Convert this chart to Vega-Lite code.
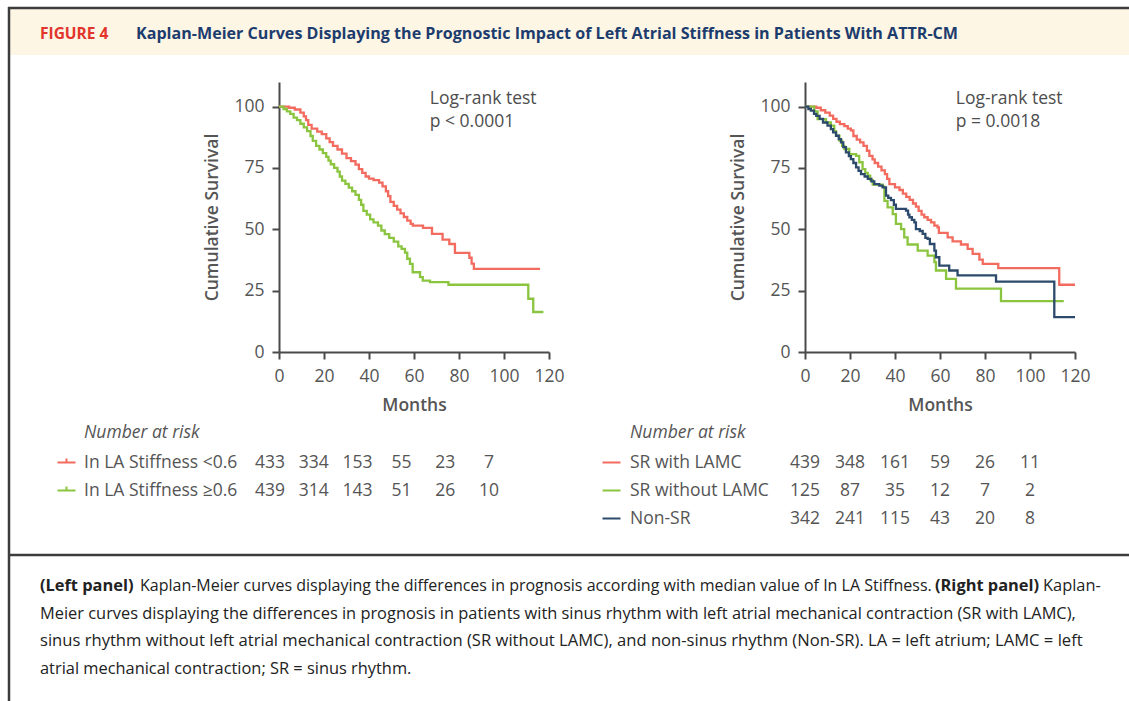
{
  "$schema": "https://vega.github.io/schema/vega-lite/v6.json",
  "padding": 0,
  "autosize": {"type": "pad"},
  "background": "white",
  "columns": 2,
  "bounds": "flush",
  "spacing": {"row": 96, "column": 256},
  "resolve": {"scale": {"color": "independent", "x": "independent", "y": "independent"}, "legend": {"color": "independent"}},
  "config": {
    "font": "Open Sans",
    "view": {"stroke": null},
    "axis": {"domainColor": "#4a4a4a", "domainWidth": 2, "tickColor": "#4a4a4a", "tickWidth": 2, "tickSize": 7, "labelFont": "Open Sans", "labelFontSize": 17.5, "labelColor": "#555555", "titleFont": "Open Sans", "titleFontSize": 17.5, "titleColor": "#555555", "grid": false, "labelFlush": false, "labelOverlap": false},
    "legend": {"labelFont": "Open Sans", "titleFont": "Open Sans", "labelLimit": 400, "titleLimit": 400}
  },
  "concat": [
    {
      "width": 270,
      "height": 270,
      "layer": [
        {"data": {"values": [{}]}, "mark": {"type": "rect", "opacity": 0}, "encoding": {"x": {"value": -279}, "x2": {"value": 850}, "y": {"value": -82}, "y2": {"value": 619}}},
        {"data": {"values": [{}]}, "mark": {"type": "rect", "color": "#FDF6E4"}, "encoding": {"x": {"value": -270}, "x2": {"value": 850}, "y": {"value": -73}, "y2": {"value": -27}}},
        {"data": {"values": [{}]}, "mark": {"type": "rule", "color": "#3c3c3c", "strokeWidth": 2.5}, "encoding": {"x": {"value": -271}, "x2": {"value": 850}, "y": {"value": -74}}},
        {"data": {"values": [{}]}, "mark": {"type": "rule", "color": "#3c3c3c", "strokeWidth": 2.5}, "encoding": {"x": {"value": -270}, "y": {"value": -75}, "y2": {"value": 619}}},
        {"data": {"values": [{}]}, "mark": {"type": "rule", "color": "#3c3c3c", "strokeWidth": 2.5}, "encoding": {"x": {"value": -270}, "x2": {"value": 850}, "y": {"value": 473}}},
        {"data": {"values": [{}]}, "mark": {"type": "text", "text": "FIGURE 4", "font": "Open Sans", "fontWeight": "bold", "fontSize": 15.5, "color": "#E2352D", "align": "left", "baseline": "middle"}, "encoding": {"x": {"value": -239}, "y": {"value": -48}}},
        {"data": {"values": [{}]}, "mark": {"type": "text", "text": "Kaplan-Meier Curves Displaying the Prognostic Impact of Left Atrial Stiffness in Patients With ATTR-CM", "font": "Open Sans", "fontWeight": "bold", "fontSize": 16.1, "color": "#1D3C6E", "align": "left", "baseline": "middle"}, "encoding": {"x": {"value": -143}, "y": {"value": -48}}},
        {"data": {"values": [{}]}, "mark": {"type": "text", "text": "(Left panel)", "fontWeight": "bold", "fontSize": 16.4, "color": "#222222", "align": "left", "baseline": "middle"}, "encoding": {"x": {"value": -239}, "y": {"value": 504}}},
        {"data": {"values": [{}]}, "mark": {"type": "text", "text": "Kaplan-Meier curves displaying the differences in prognosis according with median value of In LA Stiffness.", "fontSize": 16, "color": "#222222", "align": "left", "baseline": "middle"}, "encoding": {"x": {"value": -139}, "y": {"value": 504}}},
        {"data": {"values": [{}]}, "mark": {"type": "text", "text": "(Right panel)", "fontWeight": "bold", "fontSize": 16.4, "color": "#222222", "align": "left", "baseline": "middle"}, "encoding": {"x": {"value": 656}, "y": {"value": 504}}},
        {"data": {"values": [{}]}, "mark": {"type": "text", "text": "Kaplan-", "fontSize": 16.4, "color": "#222222", "align": "left", "baseline": "middle"}, "encoding": {"x": {"value": 764}, "y": {"value": 504}}},
        {"data": {"values": [{}]}, "mark": {"type": "text", "text": "Meier curves displaying the differences in prognosis in patients with sinus rhythm with left atrial mechanical contraction (SR with LAMC),", "fontSize": 16.4, "color": "#222222", "align": "left", "baseline": "middle"}, "encoding": {"x": {"value": -239}, "y": {"value": 531.5}}},
        {"data": {"values": [{}]}, "mark": {"type": "text", "text": "sinus rhythm without left atrial mechanical contraction (SR without LAMC), and non-sinus rhythm (Non-SR). LA = left atrium; LAMC = left", "fontSize": 16.6, "color": "#222222", "align": "left", "baseline": "middle"}, "encoding": {"x": {"value": -239}, "y": {"value": 559}}},
        {"data": {"values": [{}]}, "mark": {"type": "text", "text": "atrial mechanical contraction; SR = sinus rhythm.", "fontSize": 16.4, "color": "#222222", "align": "left", "baseline": "middle"}, "encoding": {"x": {"value": -239}, "y": {"value": 586.5}}},
        {
          "data": {"values": [
            {"g": "In LA Stiffness <0.6", "t": 0, "s": 100}, {"g": "In LA Stiffness <0.6", "t": 4.5, "s": 99.5}, {"g": "In LA Stiffness <0.6", "t": 7, "s": 98.8}, {"g": "In LA Stiffness <0.6", "t": 9.5, "s": 97.5}, {"g": "In LA Stiffness <0.6", "t": 11, "s": 96}, {"g": "In LA Stiffness <0.6", "t": 12, "s": 94.5}, {"g": "In LA Stiffness <0.6", "t": 13, "s": 92.5}, {"g": "In LA Stiffness <0.6", "t": 14.5, "s": 91}, {"g": "In LA Stiffness <0.6", "t": 17, "s": 89.8}, {"g": "In LA Stiffness <0.6", "t": 19, "s": 88.8}, {"g": "In LA Stiffness <0.6", "t": 21, "s": 87}, {"g": "In LA Stiffness <0.6", "t": 22.5, "s": 85.5}, {"g": "In LA Stiffness <0.6", "t": 24, "s": 84}, {"g": "In LA Stiffness <0.6", "t": 26, "s": 82.5}, {"g": "In LA Stiffness <0.6", "t": 28, "s": 80.8}, {"g": "In LA Stiffness <0.6", "t": 30, "s": 79}, {"g": "In LA Stiffness <0.6", "t": 32, "s": 77.8}, {"g": "In LA Stiffness <0.6", "t": 34, "s": 76.3}, {"g": "In LA Stiffness <0.6", "t": 35.5, "s": 74.5}, {"g": "In LA Stiffness <0.6", "t": 37, "s": 73}, {"g": "In LA Stiffness <0.6", "t": 38.5, "s": 71.5}, {"g": "In LA Stiffness <0.6", "t": 40, "s": 70.6}, {"g": "In LA Stiffness <0.6", "t": 42, "s": 70}, {"g": "In LA Stiffness <0.6", "t": 44.5, "s": 69}, {"g": "In LA Stiffness <0.6", "t": 46, "s": 67.5}, {"g": "In LA Stiffness <0.6", "t": 47.5, "s": 65.5}, {"g": "In LA Stiffness <0.6", "t": 48.5, "s": 63.5}, {"g": "In LA Stiffness <0.6", "t": 49.5, "s": 61.2}, {"g": "In LA Stiffness <0.6", "t": 51, "s": 59.5}, {"g": "In LA Stiffness <0.6", "t": 52.5, "s": 58}, {"g": "In LA Stiffness <0.6", "t": 54, "s": 56.5}, {"g": "In LA Stiffness <0.6", "t": 55.5, "s": 55}, {"g": "In LA Stiffness <0.6", "t": 57, "s": 53.5}, {"g": "In LA Stiffness <0.6", "t": 58.5, "s": 52.2}, {"g": "In LA Stiffness <0.6", "t": 59.5, "s": 51.5}, {"g": "In LA Stiffness <0.6", "t": 64, "s": 50.6}, {"g": "In LA Stiffness <0.6", "t": 68, "s": 48.1}, {"g": "In LA Stiffness <0.6", "t": 72.7, "s": 45.8}, {"g": "In LA Stiffness <0.6", "t": 75.7, "s": 44}, {"g": "In LA Stiffness <0.6", "t": 78.2, "s": 40.4}, {"g": "In LA Stiffness <0.6", "t": 84.6, "s": 38.4}, {"g": "In LA Stiffness <0.6", "t": 85.6, "s": 36}, {"g": "In LA Stiffness <0.6", "t": 86.6, "s": 33.9}, {"g": "In LA Stiffness <0.6", "t": 116, "s": 33.9},
            {"g": "In LA Stiffness ≥0.6", "t": 0, "s": 100}, {"g": "In LA Stiffness ≥0.6", "t": 2, "s": 99}, {"g": "In LA Stiffness ≥0.6", "t": 3.5, "s": 98}, {"g": "In LA Stiffness ≥0.6", "t": 5, "s": 97}, {"g": "In LA Stiffness ≥0.6", "t": 6.5, "s": 95.5}, {"g": "In LA Stiffness ≥0.6", "t": 8, "s": 94.5}, {"g": "In LA Stiffness ≥0.6", "t": 9.5, "s": 93}, {"g": "In LA Stiffness ≥0.6", "t": 11, "s": 91.5}, {"g": "In LA Stiffness ≥0.6", "t": 12.5, "s": 90}, {"g": "In LA Stiffness ≥0.6", "t": 14, "s": 88}, {"g": "In LA Stiffness ≥0.6", "t": 15, "s": 86}, {"g": "In LA Stiffness ≥0.6", "t": 16.5, "s": 84}, {"g": "In LA Stiffness ≥0.6", "t": 18, "s": 82.5}, {"g": "In LA Stiffness ≥0.6", "t": 19.5, "s": 81}, {"g": "In LA Stiffness ≥0.6", "t": 21, "s": 79.5}, {"g": "In LA Stiffness ≥0.6", "t": 22, "s": 78}, {"g": "In LA Stiffness ≥0.6", "t": 23, "s": 76.5}, {"g": "In LA Stiffness ≥0.6", "t": 24.5, "s": 75}, {"g": "In LA Stiffness ≥0.6", "t": 26, "s": 73.5}, {"g": "In LA Stiffness ≥0.6", "t": 27, "s": 71.5}, {"g": "In LA Stiffness ≥0.6", "t": 28, "s": 69.8}, {"g": "In LA Stiffness ≥0.6", "t": 29.5, "s": 68.5}, {"g": "In LA Stiffness ≥0.6", "t": 31, "s": 67}, {"g": "In LA Stiffness ≥0.6", "t": 32.5, "s": 65.5}, {"g": "In LA Stiffness ≥0.6", "t": 34, "s": 64}, {"g": "In LA Stiffness ≥0.6", "t": 35.5, "s": 62}, {"g": "In LA Stiffness ≥0.6", "t": 36.5, "s": 60}, {"g": "In LA Stiffness ≥0.6", "t": 37.5, "s": 57.5}, {"g": "In LA Stiffness ≥0.6", "t": 39, "s": 56}, {"g": "In LA Stiffness ≥0.6", "t": 40.5, "s": 54}, {"g": "In LA Stiffness ≥0.6", "t": 42, "s": 52.8}, {"g": "In LA Stiffness ≥0.6", "t": 44, "s": 51.5}, {"g": "In LA Stiffness ≥0.6", "t": 45.5, "s": 49.5}, {"g": "In LA Stiffness ≥0.6", "t": 47, "s": 48}, {"g": "In LA Stiffness ≥0.6", "t": 49, "s": 46.5}, {"g": "In LA Stiffness ≥0.6", "t": 51, "s": 45}, {"g": "In LA Stiffness ≥0.6", "t": 53, "s": 43}, {"g": "In LA Stiffness ≥0.6", "t": 54.5, "s": 42}, {"g": "In LA Stiffness ≥0.6", "t": 56, "s": 40.5}, {"g": "In LA Stiffness ≥0.6", "t": 57, "s": 38}, {"g": "In LA Stiffness ≥0.6", "t": 58.2, "s": 35.9}, {"g": "In LA Stiffness ≥0.6", "t": 59.4, "s": 32.5}, {"g": "In LA Stiffness ≥0.6", "t": 62.7, "s": 30.5}, {"g": "In LA Stiffness ≥0.6", "t": 63.9, "s": 29.1}, {"g": "In LA Stiffness ≥0.6", "t": 67.1, "s": 28.5}, {"g": "In LA Stiffness ≥0.6", "t": 75.3, "s": 27.4}, {"g": "In LA Stiffness ≥0.6", "t": 110.8, "s": 21.7}, {"g": "In LA Stiffness ≥0.6", "t": 113, "s": 16.3}, {"g": "In LA Stiffness ≥0.6", "t": 117.5, "s": 16.3}
          ]},
          "mark": {"type": "line", "interpolate": "step-after", "strokeWidth": 2.3},
          "encoding": {
            "x": {"field": "t", "type": "quantitative", "scale": {"domain": [0, 120], "nice": false}, "axis": {"values": [0, 20, 40, 60, 80, 100, 120], "title": "Months", "titleFontWeight": 600, "titleY": 53, "titleBaseline": "middle", "labelPadding": 8}},
            "y": {"field": "s", "type": "quantitative", "scale": {"domain": [0, 110], "nice": false}, "axis": {"values": [0, 25, 50, 75, 100], "title": "Cumulative Survival", "titleFontWeight": 600, "titleAngle": 270, "titleX": -67, "titleY": 135, "titleBaseline": "middle", "titleAlign": "center", "labelPadding": 8}},
            "color": {"field": "g", "type": "nominal", "scale": {"domain": ["In LA Stiffness <0.6", "In LA Stiffness ≥0.6"], "range": ["#F26B5E", "#8BC53F"]}, "legend": {"orient": "none", "direction": "vertical", "legendX": -195, "legendY": 342, "title": "Number at risk", "titleFontStyle": "italic", "titleFontWeight": "normal", "titleFontSize": 17.5, "titleColor": "#555555", "titlePadding": 11, "labelFontSize": 17.5, "labelColor": "#555555", "symbolType": "M-1,0H1M0,0V-0.45", "symbolSize": 324, "symbolStrokeWidth": 2, "symbolOffset": -27.5, "labelOffset": 7.5, "rowPadding": 9}}
          }
        },
        {
          "data": {"values": [{"t": 67, "s": 103.2, "label": "Log-rank test"}, {"t": 67, "s": 93.8, "label": "p < 0.0001"}]},
          "mark": {"type": "text", "align": "left", "baseline": "middle", "fontSize": 17.5, "color": "#4d4d4d"},
          "encoding": {"x": {"field": "t", "type": "quantitative"}, "y": {"field": "s", "type": "quantitative"}, "text": {"field": "label"}}
        }
      ]
    },
    {
      "width": 270,
      "height": 270,
      "layer": [
        {
          "data": {"values": [
            {"g": "SR with LAMC", "t": 0, "s": 100}, {"g": "SR with LAMC", "t": 5, "s": 99.5}, {"g": "SR with LAMC", "t": 7, "s": 98.5}, {"g": "SR with LAMC", "t": 9, "s": 97.5}, {"g": "SR with LAMC", "t": 11, "s": 96.3}, {"g": "SR with LAMC", "t": 12.5, "s": 95}, {"g": "SR with LAMC", "t": 14, "s": 93.8}, {"g": "SR with LAMC", "t": 15.5, "s": 92.8}, {"g": "SR with LAMC", "t": 17.5, "s": 92}, {"g": "SR with LAMC", "t": 19, "s": 91}, {"g": "SR with LAMC", "t": 20.4, "s": 90.3}, {"g": "SR with LAMC", "t": 21.5, "s": 88}, {"g": "SR with LAMC", "t": 23, "s": 86.5}, {"g": "SR with LAMC", "t": 24.5, "s": 85.4}, {"g": "SR with LAMC", "t": 26, "s": 84}, {"g": "SR with LAMC", "t": 27.5, "s": 82}, {"g": "SR with LAMC", "t": 28.6, "s": 79.9}, {"g": "SR with LAMC", "t": 30, "s": 78.5}, {"g": "SR with LAMC", "t": 31, "s": 77}, {"g": "SR with LAMC", "t": 32.5, "s": 75.5}, {"g": "SR with LAMC", "t": 34, "s": 74}, {"g": "SR with LAMC", "t": 35.5, "s": 72.5}, {"g": "SR with LAMC", "t": 36.5, "s": 70.5}, {"g": "SR with LAMC", "t": 37.5, "s": 68.4}, {"g": "SR with LAMC", "t": 40, "s": 67.1}, {"g": "SR with LAMC", "t": 42, "s": 66}, {"g": "SR with LAMC", "t": 43.5, "s": 64.5}, {"g": "SR with LAMC", "t": 45, "s": 63.2}, {"g": "SR with LAMC", "t": 46.5, "s": 62}, {"g": "SR with LAMC", "t": 48, "s": 60.5}, {"g": "SR with LAMC", "t": 49.3, "s": 59.2}, {"g": "SR with LAMC", "t": 50.5, "s": 57.5}, {"g": "SR with LAMC", "t": 51.8, "s": 56}, {"g": "SR with LAMC", "t": 53, "s": 54.9}, {"g": "SR with LAMC", "t": 54.5, "s": 53.8}, {"g": "SR with LAMC", "t": 56, "s": 52.8}, {"g": "SR with LAMC", "t": 57.5, "s": 51.5}, {"g": "SR with LAMC", "t": 58.9, "s": 50.8}, {"g": "SR with LAMC", "t": 59.5, "s": 48.5}, {"g": "SR with LAMC", "t": 63.4, "s": 46.7}, {"g": "SR with LAMC", "t": 65.6, "s": 45.1}, {"g": "SR with LAMC", "t": 69.3, "s": 43.8}, {"g": "SR with LAMC", "t": 72.3, "s": 42}, {"g": "SR with LAMC", "t": 74.5, "s": 40}, {"g": "SR with LAMC", "t": 77.5, "s": 37.6}, {"g": "SR with LAMC", "t": 79, "s": 35.9}, {"g": "SR with LAMC", "t": 85.9, "s": 34.2}, {"g": "SR with LAMC", "t": 113, "s": 27.4}, {"g": "SR with LAMC", "t": 120, "s": 27.4},
            {"g": "SR without LAMC", "t": 0, "s": 100}, {"g": "SR without LAMC", "t": 4.1, "s": 98}, {"g": "SR without LAMC", "t": 5.6, "s": 94.9}, {"g": "SR without LAMC", "t": 9.3, "s": 93.5}, {"g": "SR without LAMC", "t": 11.5, "s": 92.2}, {"g": "SR without LAMC", "t": 13, "s": 90}, {"g": "SR without LAMC", "t": 13.8, "s": 88.1}, {"g": "SR without LAMC", "t": 15.3, "s": 86.1}, {"g": "SR without LAMC", "t": 16.5, "s": 84}, {"g": "SR without LAMC", "t": 17.5, "s": 82.7}, {"g": "SR without LAMC", "t": 19.7, "s": 80.6}, {"g": "SR without LAMC", "t": 22.7, "s": 79.9}, {"g": "SR without LAMC", "t": 24.1, "s": 77.3}, {"g": "SR without LAMC", "t": 25.6, "s": 74.5}, {"g": "SR without LAMC", "t": 26.8, "s": 73}, {"g": "SR without LAMC", "t": 27.9, "s": 71.8}, {"g": "SR without LAMC", "t": 29, "s": 70}, {"g": "SR without LAMC", "t": 30.1, "s": 68.2}, {"g": "SR without LAMC", "t": 34.5, "s": 67.4}, {"g": "SR without LAMC", "t": 35.3, "s": 61.6}, {"g": "SR without LAMC", "t": 36.7, "s": 58.9}, {"g": "SR without LAMC", "t": 39, "s": 56.2}, {"g": "SR without LAMC", "t": 40.4, "s": 52.2}, {"g": "SR without LAMC", "t": 42.7, "s": 50.1}, {"g": "SR without LAMC", "t": 44.1, "s": 46.7}, {"g": "SR without LAMC", "t": 45.6, "s": 43.8}, {"g": "SR without LAMC", "t": 50.1, "s": 41.3}, {"g": "SR without LAMC", "t": 54.5, "s": 39.3}, {"g": "SR without LAMC", "t": 57.5, "s": 36.6}, {"g": "SR without LAMC", "t": 58.2, "s": 33.2}, {"g": "SR without LAMC", "t": 62.7, "s": 29.8}, {"g": "SR without LAMC", "t": 67.1, "s": 25.8}, {"g": "SR without LAMC", "t": 87.1, "s": 20.7}, {"g": "SR without LAMC", "t": 115, "s": 20.7},
            {"g": "Non-SR", "t": 0, "s": 100}, {"g": "Non-SR", "t": 1.5, "s": 99}, {"g": "Non-SR", "t": 2.6, "s": 98.3}, {"g": "Non-SR", "t": 4, "s": 97}, {"g": "Non-SR", "t": 5, "s": 96.2}, {"g": "Non-SR", "t": 6.5, "s": 95}, {"g": "Non-SR", "t": 8, "s": 93.5}, {"g": "Non-SR", "t": 10, "s": 92.2}, {"g": "Non-SR", "t": 11.5, "s": 90.8}, {"g": "Non-SR", "t": 12.5, "s": 89.5}, {"g": "Non-SR", "t": 13.8, "s": 88.1}, {"g": "Non-SR", "t": 15, "s": 86.7}, {"g": "Non-SR", "t": 16, "s": 85.4}, {"g": "Non-SR", "t": 17, "s": 83.5}, {"g": "Non-SR", "t": 18.2, "s": 81.3}, {"g": "Non-SR", "t": 19.5, "s": 79.8}, {"g": "Non-SR", "t": 20.4, "s": 78.6}, {"g": "Non-SR", "t": 21.5, "s": 77}, {"g": "Non-SR", "t": 22.7, "s": 75.2}, {"g": "Non-SR", "t": 23.8, "s": 73.8}, {"g": "Non-SR", "t": 24.9, "s": 72.5}, {"g": "Non-SR", "t": 26.5, "s": 71.5}, {"g": "Non-SR", "t": 27.9, "s": 70.5}, {"g": "Non-SR", "t": 29.5, "s": 69.5}, {"g": "Non-SR", "t": 30.8, "s": 68.4}, {"g": "Non-SR", "t": 33, "s": 67.8}, {"g": "Non-SR", "t": 34.5, "s": 67.1}, {"g": "Non-SR", "t": 36, "s": 63.7}, {"g": "Non-SR", "t": 37, "s": 62.8}, {"g": "Non-SR", "t": 38.2, "s": 61.9}, {"g": "Non-SR", "t": 39.5, "s": 60}, {"g": "Non-SR", "t": 40.4, "s": 58.3}, {"g": "Non-SR", "t": 44.9, "s": 57.6}, {"g": "Non-SR", "t": 45.8, "s": 56}, {"g": "Non-SR", "t": 46.4, "s": 54.9}, {"g": "Non-SR", "t": 47.5, "s": 53.8}, {"g": "Non-SR", "t": 48.6, "s": 52.8}, {"g": "Non-SR", "t": 49.3, "s": 50.1}, {"g": "Non-SR", "t": 51, "s": 49.3}, {"g": "Non-SR", "t": 52.3, "s": 48.1}, {"g": "Non-SR", "t": 53.5, "s": 46.5}, {"g": "Non-SR", "t": 54.5, "s": 46.1}, {"g": "Non-SR", "t": 55.5, "s": 44}, {"g": "Non-SR", "t": 57.5, "s": 41.3}, {"g": "Non-SR", "t": 58.2, "s": 38.6}, {"g": "Non-SR", "t": 59.7, "s": 35.2}, {"g": "Non-SR", "t": 64.1, "s": 33.2}, {"g": "Non-SR", "t": 67.8, "s": 31.2}, {"g": "Non-SR", "t": 84.9, "s": 28.7}, {"g": "Non-SR", "t": 110.8, "s": 14.2}, {"g": "Non-SR", "t": 120, "s": 14.2}
          ]},
          "mark": {"type": "line", "interpolate": "step-after", "strokeWidth": 2.3},
          "encoding": {
            "x": {"field": "t", "type": "quantitative", "scale": {"domain": [0, 120], "nice": false}, "axis": {"values": [0, 20, 40, 60, 80, 100, 120], "title": "Months", "titleFontWeight": 600, "titleY": 53, "titleBaseline": "middle", "labelPadding": 8}},
            "y": {"field": "s", "type": "quantitative", "scale": {"domain": [0, 110], "nice": false}, "axis": {"values": [0, 25, 50, 75, 100], "title": "Cumulative Survival", "titleFontWeight": 600, "titleAngle": 270, "titleX": -67, "titleY": 135, "titleBaseline": "middle", "titleAlign": "center", "labelPadding": 8}},
            "color": {"field": "g", "type": "nominal", "scale": {"domain": ["SR with LAMC", "SR without LAMC", "Non-SR"], "range": ["#F26B5E", "#8BC53F", "#2C4A6B"]}, "legend": {"orient": "none", "direction": "vertical", "legendX": -175, "legendY": 342, "title": "Number at risk", "titleFontStyle": "italic", "titleFontWeight": "normal", "titleFontSize": 17.5, "titleColor": "#555555", "titlePadding": 11, "labelFontSize": 17.5, "labelColor": "#555555", "symbolType": "M-1,0H1", "symbolSize": 324, "symbolStrokeWidth": 2, "symbolOffset": -28.5, "labelOffset": 8.5, "rowPadding": 9}}
          }
        },
        {
          "data": {"values": [{"t": 67, "s": 103.2, "label": "Log-rank test"}, {"t": 67, "s": 93.8, "label": "p = 0.0018"}]},
          "mark": {"type": "text", "align": "left", "baseline": "middle", "fontSize": 17.5, "color": "#4d4d4d"},
          "encoding": {"x": {"field": "t", "type": "quantitative"}, "y": {"field": "s", "type": "quantitative"}, "text": {"field": "label"}}
        }
      ]
    },
    {
      "width": 270,
      "height": 56,
      "data": {"values": [
        {"g": "In LA Stiffness <0.6", "t": 0, "n": "433"}, {"g": "In LA Stiffness <0.6", "t": 20, "n": "334"}, {"g": "In LA Stiffness <0.6", "t": 40, "n": "153"}, {"g": "In LA Stiffness <0.6", "t": 60, "n": "55"}, {"g": "In LA Stiffness <0.6", "t": 80, "n": "23"}, {"g": "In LA Stiffness <0.6", "t": 100, "n": "7"},
        {"g": "In LA Stiffness ≥0.6", "t": 0, "n": "439"}, {"g": "In LA Stiffness ≥0.6", "t": 20, "n": "314"}, {"g": "In LA Stiffness ≥0.6", "t": 40, "n": "143"}, {"g": "In LA Stiffness ≥0.6", "t": 60, "n": "51"}, {"g": "In LA Stiffness ≥0.6", "t": 80, "n": "26"}, {"g": "In LA Stiffness ≥0.6", "t": 100, "n": "10"}
      ]},
      "mark": {"type": "text", "fontSize": 17.5, "color": "#555555", "dy": 1},
      "encoding": {
        "x": {"field": "t", "type": "quantitative", "scale": {"domain": [0, 100], "range": [-9, 210]}, "axis": null},
        "y": {"field": "g", "type": "nominal", "scale": {"domain": ["In LA Stiffness <0.6", "In LA Stiffness ≥0.6"]}, "axis": null},
        "text": {"field": "n", "type": "nominal"}
      }
    },
    {
      "width": 270,
      "height": 84,
      "data": {"values": [
        {"g": "SR with LAMC", "t": 0, "n": "439"}, {"g": "SR with LAMC", "t": 20, "n": "348"}, {"g": "SR with LAMC", "t": 40, "n": "161"}, {"g": "SR with LAMC", "t": 60, "n": "59"}, {"g": "SR with LAMC", "t": 80, "n": "26"}, {"g": "SR with LAMC", "t": 100, "n": "11"},
        {"g": "SR without LAMC", "t": 0, "n": "125"}, {"g": "SR without LAMC", "t": 20, "n": "87"}, {"g": "SR without LAMC", "t": 40, "n": "35"}, {"g": "SR without LAMC", "t": 60, "n": "12"}, {"g": "SR without LAMC", "t": 80, "n": "7"}, {"g": "SR without LAMC", "t": 100, "n": "2"},
        {"g": "Non-SR", "t": 0, "n": "342"}, {"g": "Non-SR", "t": 20, "n": "241"}, {"g": "Non-SR", "t": 40, "n": "115"}, {"g": "Non-SR", "t": 60, "n": "43"}, {"g": "Non-SR", "t": 80, "n": "20"}, {"g": "Non-SR", "t": 100, "n": "8"}
      ]},
      "mark": {"type": "text", "fontSize": 17.5, "color": "#555555", "dy": 1},
      "encoding": {
        "x": {"field": "t", "type": "quantitative", "scale": {"domain": [0, 120], "nice": false}, "axis": null},
        "y": {"field": "g", "type": "nominal", "scale": {"domain": ["SR with LAMC", "SR without LAMC", "Non-SR"]}, "axis": null},
        "text": {"field": "n", "type": "nominal"}
      }
    }
  ]
}
